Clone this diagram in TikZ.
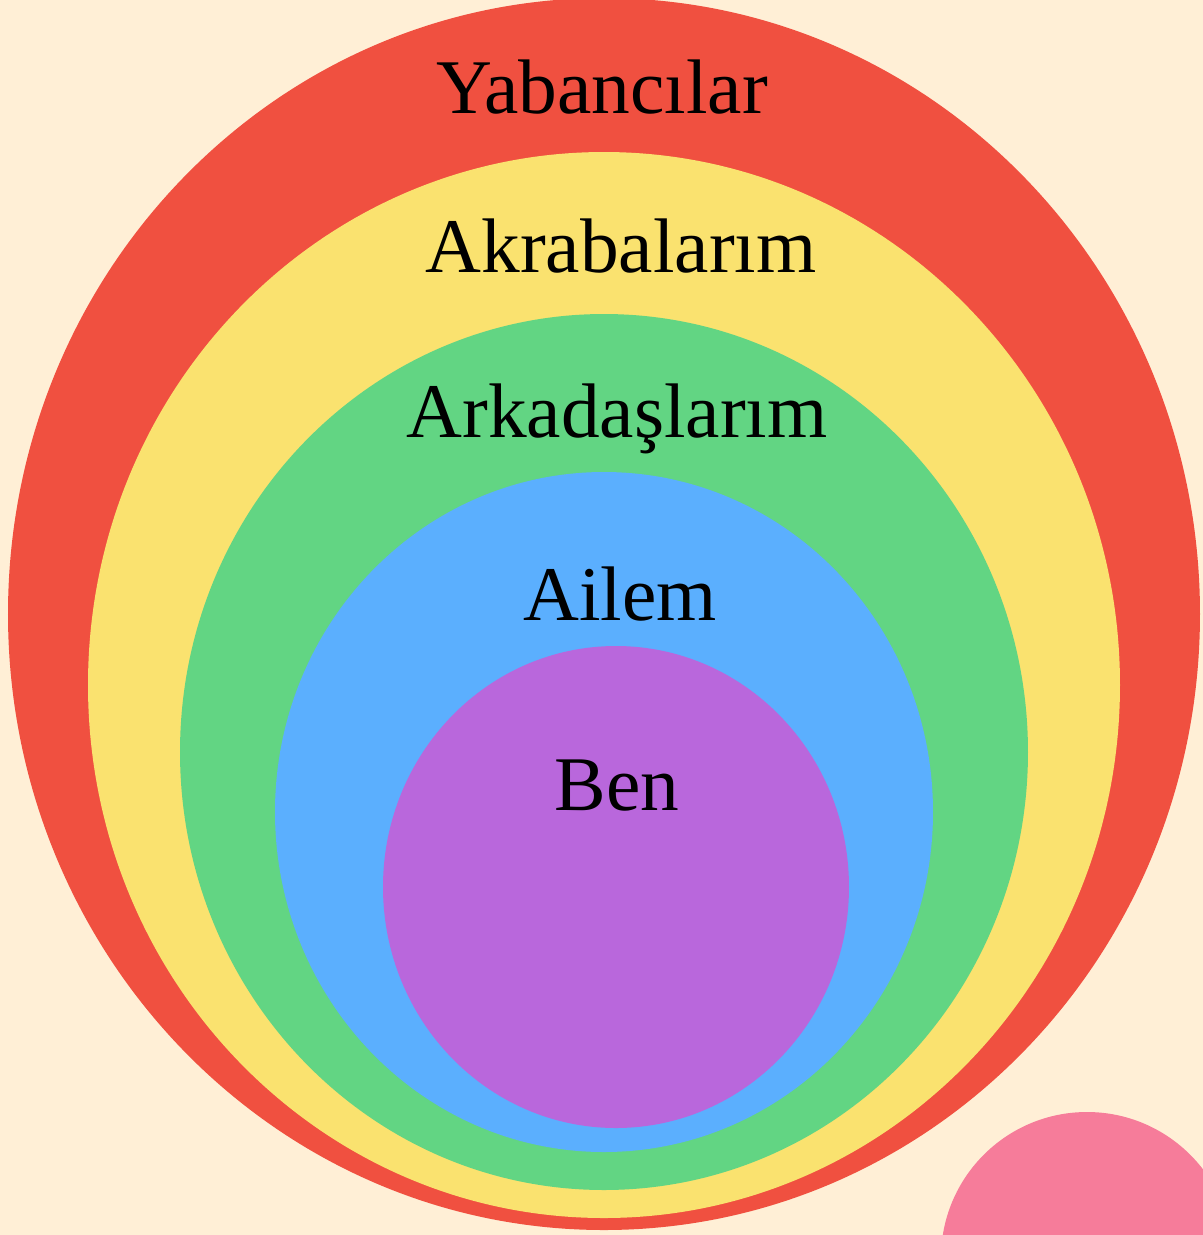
\documentclass[tikz,border=0pt]{standalone}
\usepackage{fontspec}
\setmainfont{Liberation Serif}
\definecolor{ringBack}{HTML}{FFEFD6}
\definecolor{ringRed}{HTML}{F05040}
\definecolor{ringYellow}{HTML}{FAE26F}
\definecolor{ringGreen}{HTML}{62D583}
\definecolor{ringBlue}{HTML}{5BAFFE}
\definecolor{ringPurple}{HTML}{B967DC}
\definecolor{ringPink}{HTML}{F67C9A}
\tikzset{
    rlabel/.style={anchor=base, inner sep=0pt, text=black, font=\fontsize{22}{25}\selectfont}
}
\begin{document}
\begin{tikzpicture}[x=0.01cm, y=-0.01cm]
            \fill[ringBack] (0,0) rectangle (1203,1235);
            \useasboundingbox (0,0) rectangle (1203,1235);
            \fill[ringPink] (1087,1258) circle (146);
            \fill[ringRed] (604,614) ellipse [x radius=596, y radius=616];
            \fill[ringYellow] (604,685) ellipse [x radius=516, y radius=533];
            \fill[ringGreen] (604,752) ellipse [x radius=424, y radius=438];
            \fill[ringBlue] (604,812) ellipse [x radius=329, y radius=340];
            \fill[ringPurple] (616,887) ellipse [x radius=233, y radius=241];
            \node[rlabel] (yabanci) at (602,113) {Yabancılar};
            \node[rlabel] (akraba) at (621,272) {Akrabalarım};
            \node[rlabel] (arkadas) at (617,437) {Arkadaşlarım};
            \node[rlabel] (aile) at (620,620) {Ailem};
            \node[rlabel] (ben) at (617,810) {Ben};
        \end{tikzpicture}
\end{document}
